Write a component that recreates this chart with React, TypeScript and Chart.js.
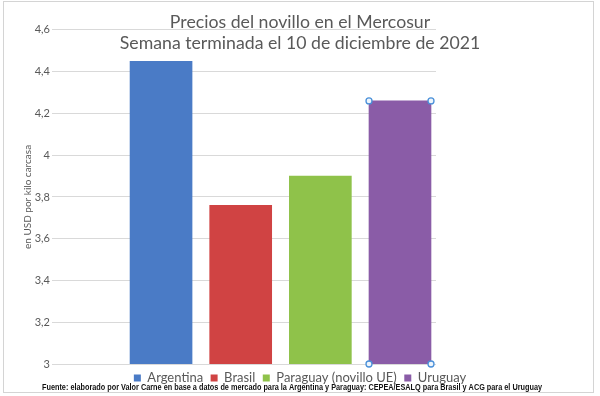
import React, { useEffect, useRef } from 'react';
import { Chart, registerables } from 'chart.js';

Chart.register(...registerables);

const categories = ['Argentina', 'Brasil', 'Paraguay (novillo UE)', 'Uruguay'];
const values = [4.45, 3.76, 3.9, 4.26];
const colors = ['#4A7BC6', '#D04343', '#8FC24A', '#8A5CA7'];
const yTickLabels = ['3', '3,2', '3,4', '3,6', '3,8', '4', '4,2', '4,4', '4,6'];
const titleLines = ['Precios del novillo en el Mercosur', 'Semana terminada el 10 de diciembre de 2021'];
const yAxisTitle = 'en USD por kilo carcasa';
const footnote =
  'Fuente: elaborado por Valor Carne en base a datos de mercado para la Argentina y Paraguay: CEPEA/ESALQ para Brasil y ACG para el Uruguay';

const GREY = '#595959';
const FONT = "Lato, 'Liberation Sans', sans-serif";

const framePlugin = {
  id: 'frame',
  beforeDraw(chart: any) {
    const ctx = chart.ctx;
    ctx.save();
    ctx.fillStyle = '#ffffff';
    ctx.fillRect(0, 0, chart.width, chart.height);
    ctx.strokeStyle = '#d4d4d4';
    ctx.lineWidth = 1;
    ctx.strokeRect(3.5, 1.5, 590, 391);
    ctx.restore();
  },
};

const footnotePlugin = {
  id: 'footnote',
  afterDraw(chart: any) {
    const ctx = chart.ctx;
    ctx.save();
    ctx.fillStyle = '#111111';
    ctx.font = "bold 9px 'Liberation Sans', sans-serif";
    ctx.textAlign = 'center';
    ctx.textBaseline = 'middle';
    ctx.fillText(footnote, 292, 387.5, 500);
    ctx.restore();
  },
};

const handlesPlugin = {
  id: 'handles',
  afterDatasetsDraw(chart: any) {
    const meta = chart.getDatasetMeta(categories.length - 1);
    const el = meta && meta.data[0];
    if (!el) return;
    const { x, y, width } = el.getProps(['x', 'y', 'width'], true);
    const base = chart.scales.y.getPixelForValue(chart.scales.y.min);
    const ctx = chart.ctx;
    const pts = [
      [x - width / 2, y],
      [x + width / 2, y],
      [x - width / 2, base],
      [x + width / 2, base],
    ];
    ctx.save();
    ctx.lineWidth = 1.3;
    ctx.strokeStyle = '#4A90D9';
    ctx.fillStyle = '#EEF5FC';
    for (const [px, py] of pts) {
      ctx.beginPath();
      ctx.arc(px, py, 3, 0, Math.PI * 2);
      ctx.fill();
      ctx.stroke();
    }
    ctx.restore();
  },
};

export default function App() {
  const ref = useRef<HTMLCanvasElement | null>(null);

  useEffect(() => {
    if (!ref.current) return;
    const chart = new Chart(ref.current, {
      type: 'bar',
      data: {
        datasets: categories.map((c, i) => ({
          label: c,
          data: [{ x: i, y: values[i] }],
          backgroundColor: colors[i],
          borderWidth: 0,
          barThickness: 62,
          grouped: false,
        })),
      },
      options: {
        responsive: false,
        animation: false,
        layout: { padding: { left: 0, right: 0, top: 0, bottom: 1.5 } },
        scales: {
          x: {
            type: 'linear',
            display: false,
            offset: false,
            min: -1.369,
            max: 3.452,
            ticks: { stepSize: 1 },
          },
          y: {
            min: 3,
            max: 4.6,
            ticks: {
              stepSize: 0.2,
              padding: 2,
              color: GREY,
              font: { family: FONT, size: 11 },
              callback: (_v: any, i: number) => yTickLabels[i],
            },
            grid: { color: '#D9D9D9', drawTicks: false, lineWidth: 1 },
            border: { display: false },
            title: {
              display: true,
              text: yAxisTitle,
              color: GREY,
              font: { family: FONT, size: 10 },
              padding: { top: 22, bottom: 0 },
            },
            afterFit: (s: any) => {
              s.width = 52;
            },
          },
          y2: {
            position: 'right',
            display: true,
            grid: { display: false },
            border: { display: false },
            ticks: { display: false },
            afterFit: (s: any) => {
              s.width = 164;
            },
          },
        },
        plugins: {
          tooltip: { enabled: false },
          title: {
            display: true,
            text: titleLines,
            color: GREY,
            font: { family: FONT, size: 17.7, weight: 'normal', lineHeight: 1.23 },
            padding: { top: 11, bottom: -24.6 },
          },
          legend: {
            position: 'bottom',
            labels: {
              boxWidth: 7,
              boxHeight: 7,
              padding: 7.5,
              color: GREY,
              font: { family: FONT, size: 13 },
            },
          },
        },
      },
      plugins: [framePlugin, handlesPlugin, footnotePlugin],
    } as any);
    return () => chart.destroy();
  }, []);

  return (
    <div style={{ position: 'fixed', left: 0, top: 0, width: 600, height: 396 }}>
      <canvas ref={ref} width={600} height={396} />
    </div>
  );
}
